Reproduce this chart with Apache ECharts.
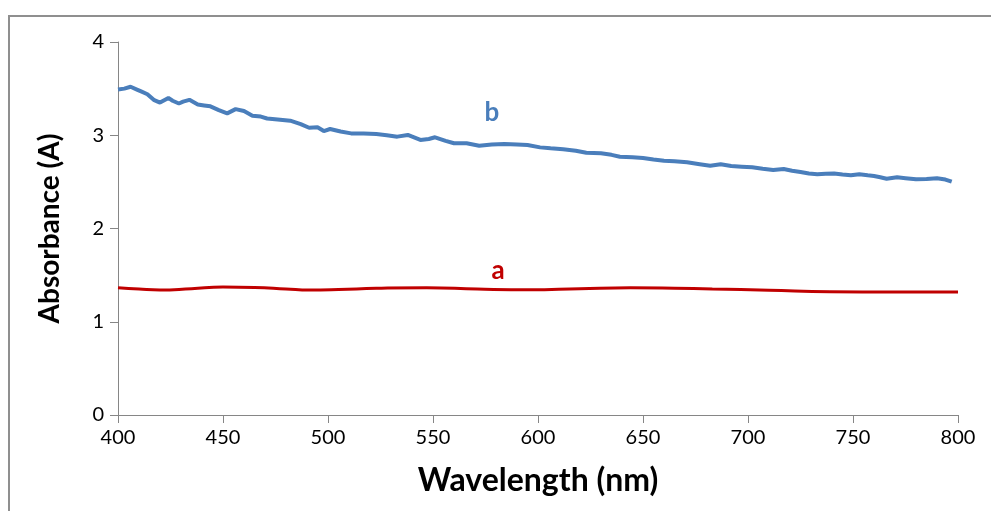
<!DOCTYPE html>
<html>
<head>
<meta charset="utf-8">
<script src="https://cdn.jsdelivr.net/npm/echarts@6/dist/echarts.min.js"></script>
<style>
  html, body { margin: 0; padding: 0; background: #fff; }
  #chart { width: 991px; height: 511px; }
</style>
</head>
<body>
<div id="chart"></div>
<script>
// Absorbance spectra, 400–800 nm
const bWavelength = [400, 403, 406, 409, 411, 414, 417, 420, 424, 426, 429, 431, 434, 438, 441, 444, 448, 452, 456, 460, 464, 468, 471, 476, 482, 487, 491, 495, 498, 501, 506, 511, 517, 523, 528, 533, 538, 544, 548, 551, 556, 560, 566, 572, 578, 584, 590, 595, 601, 606, 612, 618, 623, 630, 635, 639, 645, 650, 655, 660, 665, 671, 677, 682, 687, 692, 697, 702, 707, 712, 717, 721, 725, 729, 733, 737, 741, 745, 749, 753, 757, 760, 763, 766, 771, 775, 780, 785, 790, 794, 797];
const bAbsorbance = [3.49, 3.50, 3.52, 3.49, 3.47, 3.44, 3.38, 3.35, 3.40, 3.37, 3.34, 3.36, 3.38, 3.33, 3.32, 3.31, 3.27, 3.235, 3.28, 3.26, 3.21, 3.20, 3.18, 3.17, 3.156, 3.12, 3.08, 3.085, 3.045, 3.067, 3.04, 3.02, 3.02, 3.013, 3.00, 2.985, 3.003, 2.95, 2.96, 2.978, 2.94, 2.914, 2.914, 2.888, 2.90, 2.906, 2.90, 2.895, 2.87, 2.86, 2.849, 2.834, 2.813, 2.806, 2.79, 2.77, 2.765, 2.756, 2.74, 2.727, 2.72, 2.71, 2.69, 2.673, 2.689, 2.67, 2.663, 2.656, 2.64, 2.627, 2.638, 2.62, 2.606, 2.59, 2.581, 2.586, 2.59, 2.578, 2.57, 2.581, 2.57, 2.563, 2.55, 2.534, 2.549, 2.54, 2.528, 2.532, 2.538, 2.525, 2.502];

const aWavelength = [400, 410, 420, 435, 450, 465, 480, 491, 505, 523, 547, 571, 596, 620, 644, 665, 683, 710, 739, 770, 800];
const aAbsorbance = [1.365, 1.35, 1.34, 1.355, 1.372, 1.368, 1.352, 1.34, 1.345, 1.358, 1.365, 1.351, 1.343, 1.355, 1.365, 1.36, 1.351, 1.338, 1.322, 1.32, 1.32];

const xTitle = 'Wavelength (nm)';
const yTitle = 'Absorbance (A)';
const FONT = 'Lato, "Open Sans", sans-serif';
const AXIS_COLOR = '#868686';

const chart = echarts.init(document.getElementById('chart'), null, { renderer: 'canvas' });

const zip = (xs, ys) => xs.map((x, i) => [x, ys[i]]);

chart.setOption({
  animation: false,
  backgroundColor: '#fff',
  grid: { left: 118, right: 33, top: 42, bottom: 96 },
  graphic: [
    {
      type: 'rect',
      shape: { x: 9, y: 16, width: 1000, height: 600 },
      style: { fill: 'none', stroke: '#8f8f8f', lineWidth: 2 },
      silent: true, z: -10
    }
  ],
  xAxis: {
    type: 'value',
    min: 400, max: 800, interval: 50,
    name: xTitle,
    nameLocation: 'middle',
    nameGap: 50,
    nameTextStyle: { fontFamily: FONT, fontSize: 32, fontWeight: 'bold', color: '#000' },
    axisLine: { show: true, lineStyle: { color: AXIS_COLOR, width: 1 } },
    axisTick: { show: true, length: 8, lineStyle: { color: AXIS_COLOR } },
    axisLabel: { fontFamily: FONT, fontSize: 20, color: '#000', margin: 13 },
    splitLine: { show: false }
  },
  yAxis: {
    type: 'value',
    min: 0, max: 4, interval: 1,
    name: yTitle,
    nameLocation: 'middle',
    nameGap: 54,
    nameRotate: 90,
    nameTextStyle: { fontFamily: FONT, fontSize: 28, fontWeight: 'bold', color: '#000' },
    axisLine: { show: true, lineStyle: { color: AXIS_COLOR, width: 1 } },
    axisTick: { show: true, length: 8, lineStyle: { color: AXIS_COLOR } },
    axisLabel: { fontFamily: FONT, fontSize: 20, color: '#000', margin: 14 },
    splitLine: { show: false }
  },
  series: [
    {
      name: 'a',
      type: 'line',
      data: zip(aWavelength, aAbsorbance),
      smooth: 0.5,
      symbol: 'none',
      lineStyle: { color: '#c00000', width: 3 },
      markPoint: {
        symbol: 'circle', symbolSize: 0,
        data: [{ coord: [581, 1.55], value: 'a' }],
        label: { show: true, formatter: 'a', fontFamily: FONT, fontSize: 26, fontWeight: 'bold', color: '#c00000' }
      }
    },
    {
      name: 'b',
      type: 'line',
      data: zip(bWavelength, bAbsorbance),
      symbol: 'none',
      lineStyle: { color: '#4a7ebb', width: 4 },
      markPoint: {
        symbol: 'circle', symbolSize: 0,
        data: [{ coord: [578, 3.24], value: 'b' }],
        label: { show: true, formatter: 'b', fontFamily: FONT, fontSize: 26, fontWeight: 'bold', color: '#4a7ebb' }
      }
    }
  ]
});
</script>
</body>
</html>
